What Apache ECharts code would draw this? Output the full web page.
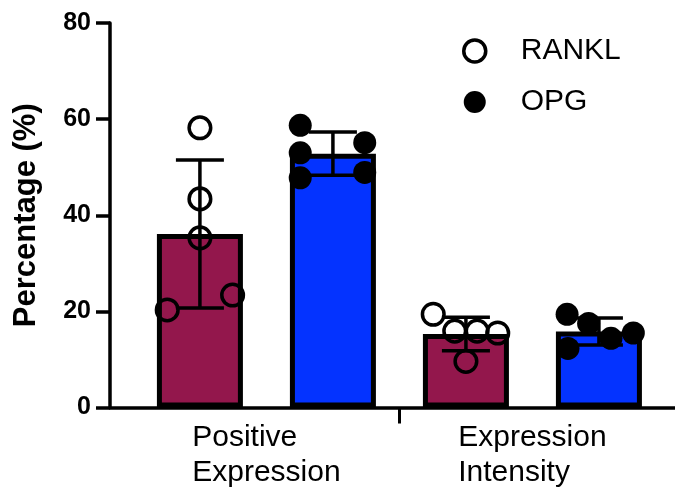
<!DOCTYPE html>
<html>
<head>
<meta charset="utf-8">
<script src="https://cdn.jsdelivr.net/npm/echarts@6/dist/echarts.min.js"></script>
<style>
html,body{margin:0;padding:0;background:#fff;}
#chart{width:675px;height:496px;}
</style>
</head>
<body>
<div id="chart"></div>
<script>
// ---- data ----
const categories = ['Positive\nExpression', 'Expression\nIntensity'];
const seriesNames = ['RANKL', 'OPG'];
const yTicks = [0, 20, 40, 60, 80];
const ranklMean = [36.1, 15.3];
const ranklSD = [15.4, 3.5];
const opgMean = [52.8, 15.8];
const opgSD = [4.5, 2.8];
const ranklPoints = [[58.2, 43.4, 35.3, 20.3, 23.4], [19.4, 15.9, 15.9, 15.5, 9.6]];
const opgPoints = [[58.7, 55.1, 53.0, 47.8, 48.9], [19.4, 17.5, 14.4, 15.5, 12.3]];
// horizontal scatter spread of the replicate dots (fraction of bar width)
const ranklSpread = [[0, 0, 0, -0.38, 0.38], [-0.38, -0.13, 0.13, 0.37, 0]];
const opgSpread = [[-0.38, 0.37, -0.38, -0.38, 0.37], [-0.37, -0.12, 0.14, 0.4, -0.36]];

// ---- style ----
const BAR_W = 86, BAR_GAP = 47, LW = 3.5;
const colors = ['#93174C', '#0433FF'];
const FONT = 'Liberation Sans, Arial, Helvetica, sans-serif';

const chart = echarts.init(document.getElementById('chart'));

function barData(means) { return means.map((v, i) => [i, v]); }
function errData(means, sds) { return means.map((v, i) => [i, v, sds[i]]); }
function ptData(pts, spread) {
  const out = [];
  pts.forEach((arr, i) => arr.forEach((v, j) => out.push([i, v, spread[i][j]])));
  return out;
}
const groupOffset = [-(BAR_W + BAR_GAP) / 2, (BAR_W + BAR_GAP) / 2];

function errRender(k) {
  return function (params, api) {
    const x = api.coord([api.value(0), 0])[0] + groupOffset[k];
    const m = api.value(1), s = api.value(2);
    const yt = api.coord([0, m + s])[1], yb = api.coord([0, m - s])[1];
    const hw = 24;
    const st = { stroke: '#000', lineWidth: LW };
    return { type: 'group', children: [
      { type: 'line', shape: { x1: x, y1: yt, x2: x, y2: yb }, style: st },
      { type: 'line', shape: { x1: x - hw, y1: yt, x2: x + hw, y2: yt }, style: st },
      { type: 'line', shape: { x1: x - hw, y1: yb, x2: x + hw, y2: yb }, style: st }
    ]};
  };
}
function ptRender(k) {
  return function (params, api) {
    const x = api.coord([api.value(0), 0])[0] + groupOffset[k] + api.value(2) * BAR_W;
    const y = api.coord([0, api.value(1)])[1];
    if (k === 0) {
      return { type: 'circle', shape: { cx: x, cy: y, r: 10.8 }, style: { fill: 'none', stroke: '#000', lineWidth: LW } };
    }
    return { type: 'circle', shape: { cx: x, cy: y, r: 11.5 }, style: { fill: '#000' } };
  };
}

const option = {
  animation: false,
  backgroundColor: '#fff',
  grid: { left: 110, right: 0, top: 23, bottom: 88.5, containLabel: false, outerBoundsMode: 'none' },
  legend: {
    orient: 'vertical', left: 457, top: 31, itemWidth: 22, itemHeight: 22, itemGap: 21,
    selectedMode: false,
    textStyle: { fontFamily: FONT, fontSize: 30, color: '#000', lineHeight: 30, padding: [0, 0, 0, 30] },
    data: [
      { name: seriesNames[0], icon: 'circle', itemStyle: { color: '#fff', borderColor: '#000', borderWidth: LW } },
      { name: seriesNames[1], icon: 'circle', itemStyle: { color: '#000', borderWidth: 0 } }
    ]
  },
  xAxis: {
    type: 'value', min: -0.588, max: 1.536,
    splitLine: { show: false },
    axisLine: { show: true, onZero: false, lineStyle: { color: '#000', width: LW } },
    axisTick: { show: true, customValues: [0.5], length: 16, lineStyle: { color: '#000', width: 3 } },
    axisLabel: {
      customValues: [0, 1], margin: 13,
      formatter: v => categories[Math.round(v)].split('\n').map(s => '{a|' + s + '}').join('\n'),
      rich: { a: { align: 'left', fontFamily: FONT, fontSize: 30, lineHeight: 35, color: '#000' } }
    }
  },
  yAxis: {
    type: 'value', min: yTicks[0], max: yTicks[yTicks.length - 1], interval: 20,
    name: 'Percentage (%)', nameLocation: 'middle', nameGap: 68,
    nameTextStyle: { fontFamily: FONT, fontSize: 31, fontWeight: 'bold', color: '#000' },
    splitLine: { show: false },
    axisLine: { show: true, onZero: false, lineStyle: { color: '#000', width: LW } },
    axisTick: { show: true, length: 14, lineStyle: { color: '#000', width: LW } },
    axisLabel: { margin: 19, fontFamily: FONT, fontSize: 25, fontWeight: 'bold', color: '#000' }
  },
  series: [
    { name: seriesNames[0], type: 'bar', data: barData(ranklMean), barWidth: BAR_W, barGap: (BAR_GAP / BAR_W * 100) + '%',
      itemStyle: { color: colors[0], borderColor: '#000', borderWidth: 5 }, z: 2 },
    { name: seriesNames[1], type: 'bar', data: barData(opgMean), barWidth: BAR_W, barGap: (BAR_GAP / BAR_W * 100) + '%',
      itemStyle: { color: colors[1], borderColor: '#000', borderWidth: 5 }, z: 2 },
    { name: seriesNames[0], type: 'custom', renderItem: errRender(0), data: errData(ranklMean, ranklSD), z: 3 },
    { name: seriesNames[1], type: 'custom', renderItem: errRender(1), data: errData(opgMean, opgSD), z: 3 },
    { name: seriesNames[0], type: 'custom', renderItem: ptRender(0), data: ptData(ranklPoints, ranklSpread), z: 4 },
    { name: seriesNames[1], type: 'custom', renderItem: ptRender(1), data: ptData(opgPoints, opgSpread), z: 4 }
  ]
};
chart.setOption(option);
</script>
</body>
</html>
